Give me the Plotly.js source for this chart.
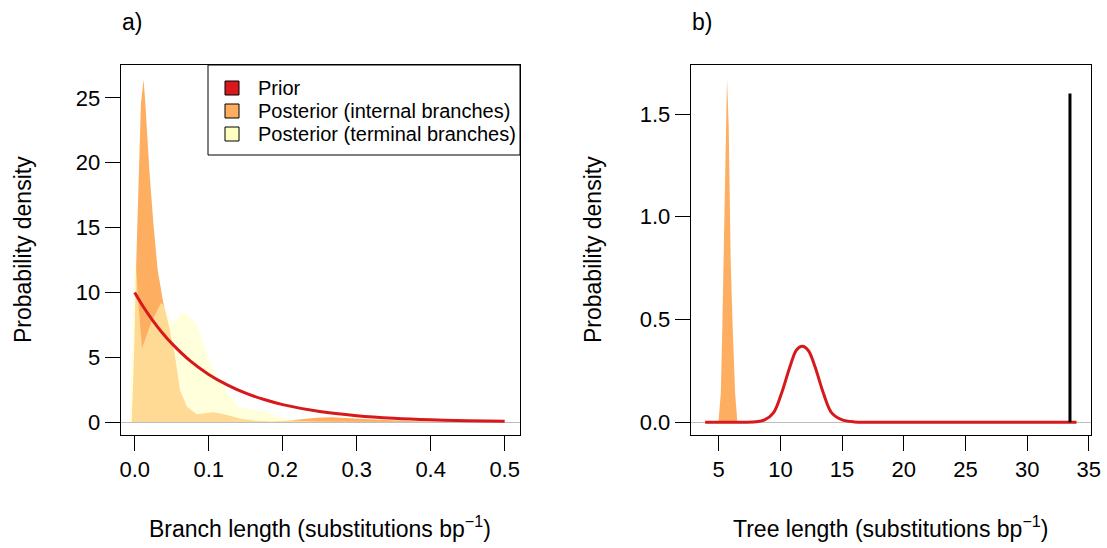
<!DOCTYPE html>
<html>
<head>
<meta charset="utf-8">
<script src="https://cdn.plot.ly/plotly-3.0.1.min.js"></script>
<style>html,body{margin:0;padding:0;background:#fff;}#chart{width:1107px;height:548px;}</style>
</head>
<body>
<div id="chart"></div>
<script>
// ---- Panel a data: branch length densities ----
const branchPriorX = [0, 0.0125, 0.025, 0.0375, 0.05, 0.075, 0.1, 0.125, 0.15, 0.175, 0.2, 0.25, 0.3, 0.35, 0.4, 0.45, 0.5];
const branchPriorY = [10, 8.82, 7.79, 6.87, 6.07, 4.72, 3.68, 2.87, 2.23, 1.74, 1.35, 0.82, 0.50, 0.30, 0.18, 0.11, 0.07];

const internalX = [-0.004, -0.001, 0.0018, 0.0054, 0.0085, 0.012, 0.0144, 0.0198, 0.025, 0.031, 0.0387, 0.0454, 0.0545, 0.0612, 0.0703, 0.0838, 0.095, 0.106, 0.118, 0.129, 0.145, 0.165, 0.185, 0.205, 0.225, 0.246, 0.266, 0.286, 0.31, 0.33, 0.354, 0.38, 0.42, 0.46, 0.5];
const internalY = [0, 5, 11.75, 19.45, 24.6, 26.4, 24.6, 19.45, 15.5, 11.75, 9.2, 7.65, 5.1, 2.5, 1.2, 0.6, 0.7, 0.77, 0.65, 0.5, 0.25, 0.1, 0.05, 0.1, 0.2, 0.34, 0.38, 0.34, 0.25, 0.18, 0.1, 0.06, 0.03, 0.01, 0];

const terminalX = [-0.0064, -0.004, -0.001, 0.001, 0.004, 0.0099, 0.022, 0.0355, 0.0387, 0.0477, 0.0545, 0.0635, 0.0725, 0.0838, 0.0905, 0.1018, 0.113, 0.1288, 0.1423, 0.16, 0.174, 0.192, 0.205, 0.22, 0.25, 0.3, 0.35, 0.4, 0.45, 0.5];
const terminalY = [0, 5, 11, 13, 10, 5.7, 7.65, 9.19, 9.06, 7.9, 7.65, 8.47, 8.16, 7.52, 6.37, 4.57, 3.29, 2.0, 1.1, 0.95, 0.85, 0.52, 0.2, 0.1, 0.05, 0.03, 0.02, 0.01, 0.005, 0];

// ---- Panel b data: tree length densities ----
const treePostX = [4.98, 5.05, 5.17, 5.294, 5.40, 5.48, 5.565, 5.673, 5.81, 5.89, 5.97, 6.13, 6.33, 6.45, 6.51];
const treePostY = [0, 0.05, 0.142, 0.466, 0.79, 1.115, 1.44, 1.674, 1.44, 1.115, 0.79, 0.466, 0.142, 0.05, 0];

const treePriorX = [3.9, 6, 8, 8.75, 9.43, 10.1, 10.78, 11.32, 11.78, 12.26, 12.8, 13.48, 14.16, 14.97, 16, 18, 25, 34.0];
const treePriorY = [0, 0, 0.002, 0.012, 0.045, 0.142, 0.271, 0.353, 0.369, 0.349, 0.271, 0.142, 0.045, 0.012, 0.001, 0, 0, 0];

const observedX = [33.47, 33.47];
const observedY = [0, 1.6];

// ---- tick labels ----
const aXTicks = [0, 0.1, 0.2, 0.3, 0.4, 0.5];
const aXTickText = ["0.0", "0.1", "0.2", "0.3", "0.4", "0.5"];
const aYTicks = [0, 5, 10, 15, 20, 25];
const bXTicks = [5, 10, 15, 20, 25, 30, 35];
const bYTicks = [0, 0.5, 1.0, 1.5];
const bYTickText = ["0.0", "0.5", "1.0", "1.5"];

const legendNames = ["Prior", "Posterior (internal branches)", "Posterior (terminal branches)"];
const legendColors = ["#D7191C", "#FDAE61", "#FFFFBF"];
const RED = legendColors[0], ORANGE = legendColors[1];

const FONT = "Liberation Sans, Arial, Helvetica, sans-serif";
const TXT = 22;

const traces = [
  {x: internalX, y: internalY, type: "scatter", mode: "lines", fill: "tozeroy", name: legendNames[1],
   fillcolor: ORANGE, line: {width: 0, color: ORANGE}, showlegend: false, xaxis: "x", yaxis: "y"},
  {x: terminalX, y: terminalY, type: "scatter", mode: "lines", fill: "tozeroy", name: legendNames[2],
   fillcolor: "rgba(255,255,191,0.55)", line: {width: 0, color: "rgba(0,0,0,0)"}, showlegend: false, xaxis: "x", yaxis: "y"},
  {x: branchPriorX, y: branchPriorY, type: "scatter", mode: "lines", name: legendNames[0],
   line: {color: RED, width: 3, shape: "spline"}, showlegend: false, xaxis: "x", yaxis: "y"},
  // panel b
  {x: treePostX, y: treePostY, type: "scatter", mode: "lines", fill: "tozeroy",
   fillcolor: ORANGE, line: {width: 0, color: ORANGE}, showlegend: false, xaxis: "x2", yaxis: "y2"},
  {x: treePriorX, y: treePriorY, type: "scatter", mode: "lines",
   line: {color: RED, width: 3, shape: "spline"}, showlegend: false, xaxis: "x2", yaxis: "y2"},
  {x: observedX, y: observedY, type: "scatter", mode: "lines",
   line: {color: "black", width: 3}, showlegend: false, xaxis: "x2", yaxis: "y2"}
];

const axisCommon = {
  showgrid: false, showline: true, mirror: true, linecolor: "black", linewidth: 1,
  ticks: "outside", ticklen: 15, tickwidth: 1, tickcolor: "black",
  tickfont: {family: FONT, size: TXT, color: "black"}, automargin: false, fixedrange: true
};

const W = 1107, H = 548;
const px = v => v / W, py = v => 1 - v / H;

// legend box (R-style) built from layout shapes + annotations
const legBox = {x0: 208, x1: 520, y0: 65, y1: 155};
const legRows = [88, 111, 134];
const shapes = [
  {type: "rect", xref: "paper", yref: "paper", x0: px(legBox.x0), x1: px(legBox.x1), y0: py(legBox.y1), y1: py(legBox.y0),
   line: {color: "black", width: 1}, fillcolor: "white", layer: "above"}
];
const annotations = [];
legendNames.forEach((name, i) => {
  shapes.push({type: "rect", xref: "paper", yref: "paper", x0: px(225), x1: px(239), y0: py(legRows[i] + 7), y1: py(legRows[i] - 7),
    line: {color: "black", width: 1}, fillcolor: legendColors[i], layer: "above"});
  annotations.push({text: name, x: px(256), y: py(legRows[i]), xref: "paper", yref: "paper", xanchor: "left", yanchor: "middle",
    showarrow: false, font: {family: FONT, size: 20, color: "black"}});
});

annotations.push(
  {text: "a)", x: px(120), y: py(22), xref: "paper", yref: "paper", xanchor: "left", yanchor: "middle", showarrow: false, font: {family: FONT, size: 23}},
  {text: "b)", x: px(690), y: py(22), xref: "paper", yref: "paper", xanchor: "left", yanchor: "middle", showarrow: false, font: {family: FONT, size: 23}},
  {text: "Probability density", x: px(23), y: py(250), xref: "paper", yref: "paper", xanchor: "center", yanchor: "middle", textangle: -90, showarrow: false, font: {family: FONT, size: 23}},
  {text: "Probability density", x: px(593), y: py(250), xref: "paper", yref: "paper", xanchor: "center", yanchor: "middle", textangle: -90, showarrow: false, font: {family: FONT, size: 23}},
  {text: "Branch length (substitutions bp<sup>\u22121</sup>)", x: px(320), y: py(527), xref: "paper", yref: "paper", xanchor: "center", yanchor: "middle", showarrow: false, font: {family: FONT, size: 23}},
  {text: "Tree length (substitutions bp<sup>\u22121</sup>)", x: px(890), y: py(527), xref: "paper", yref: "paper", xanchor: "center", yanchor: "middle", showarrow: false, font: {family: FONT, size: 23}}
);

const layout = {
  width: W, height: H,
  margin: {l: 0, r: 0, t: 0, b: 0},
  paper_bgcolor: "white", plot_bgcolor: "white",
  font: {family: FONT, color: "black"},
  showlegend: false,
  xaxis: Object.assign({}, axisCommon, {
    domain: [px(120.7), px(520)], range: [-0.0189, 0.5207],
    tickvals: aXTicks, ticktext: aXTickText, zeroline: false, anchor: "y"
  }),
  yaxis: Object.assign({}, axisCommon, {
    domain: [py(434.7), py(64.7)], range: [-0.97, 27.56],
    tickvals: aYTicks, zeroline: true, zerolinecolor: "#BEBEBE", zerolinewidth: 1, anchor: "x"
  }),
  xaxis2: Object.assign({}, axisCommon, {
    domain: [px(690.7), px(1090.7)], range: [2.73, 35.15],
    tickvals: bXTicks, zeroline: false, anchor: "y2"
  }),
  yaxis2: Object.assign({}, axisCommon, {
    domain: [py(434.7), py(64.7)], range: [-0.061, 1.740],
    tickvals: bYTicks, ticktext: bYTickText, zeroline: true, zerolinecolor: "#BEBEBE", zerolinewidth: 1, anchor: "x2"
  }),
  shapes: shapes,
  annotations: annotations
};

Plotly.newPlot("chart", traces, layout, {displayModeBar: false, staticPlot: true});
</script>
</body>
</html>
